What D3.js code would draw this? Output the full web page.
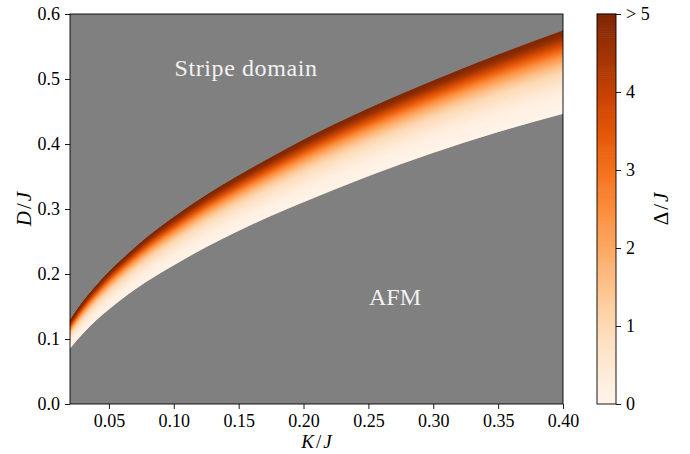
<!DOCTYPE html>
<html>
<head>
<meta charset="utf-8">
<script src="https://cdn.jsdelivr.net/npm/d3@7"></script>
<style>
  body { margin: 0; background: #fff; }
  text { font-family: "Liberation Serif", "DejaVu Serif", serif; fill: #000; }
</style>
</head>
<body>
<svg id="chart" width="690" height="454"></svg>
<script>
// phase boundaries
const kValues = [0.02, 0.025, 0.03, 0.04, 0.05, 0.06, 0.08, 0.10, 0.125, 0.15, 0.175, 0.20, 0.25, 0.30, 0.35, 0.40];
const lowerD  = [0.086, 0.098, 0.109, 0.129, 0.146, 0.162, 0.190, 0.214, 0.242, 0.267, 0.290, 0.311, 0.351, 0.387, 0.419, 0.447];
const upperD  = [0.128, 0.143, 0.157, 0.181, 0.203, 0.222, 0.257, 0.287, 0.321, 0.351, 0.379, 0.406, 0.454, 0.497, 0.537, 0.574];

// gap profile across the band: fraction from lower edge -> Delta/J
const gapFraction = [0, 0.2, 0.35, 0.5, 0.6, 0.7, 0.8, 0.9, 0.95, 1];
const gapValues   = [0, 0.15, 0.5, 1.0, 1.6, 2.4, 3.4, 4.4, 4.8, 5.0];

const xTicks = [0.05, 0.10, 0.15, 0.20, 0.25, 0.30, 0.35, 0.40];
const yTicks = [0.0, 0.1, 0.2, 0.3, 0.4, 0.5, 0.6];
const cbarTicks = [0, 1, 2, 3, 4, 5];
const cbarLabels = ['0', '1', '2', '3', '4', '> 5'];

const serif = '"Liberation Serif", "DejaVu Serif", serif';
const svg = d3.select('#chart');
const plot = {left: 70, right: 563, top: 14, bottom: 404};
const cbar = {left: 597, right: 616};

const x = d3.scaleLinear().domain([0.02, 0.40]).range([plot.left, plot.right]);
const y = d3.scaleLinear().domain([0, 0.6]).range([plot.bottom, plot.top]);
const color = d3.scaleSequential(d3.interpolateOranges).domain([0, 5]);

// gray background
svg.append('rect')
    .attr('x', plot.left).attr('y', plot.top)
    .attr('width', plot.right - plot.left).attr('height', plot.bottom - plot.top)
    .attr('fill', '#808080');

svg.append('clipPath').attr('id', 'plot-clip')
    .append('rect')
    .attr('x', plot.left).attr('y', plot.top)
    .attr('width', plot.right - plot.left).attr('height', plot.bottom - plot.top);

// band, drawn as thin stacked strips of constant colour
const rows = kValues.map((k, i) => ({k, lo: lowerD[i], hi: upperD[i]}));
const strips = [];
const sub = 6;
for (let j = 0; j < gapFraction.length - 1; j++) {
    for (let s = 0; s < sub; s++) {
        const f0 = gapFraction[j] + (gapFraction[j + 1] - gapFraction[j]) * s / sub;
        const f1 = gapFraction[j] + (gapFraction[j + 1] - gapFraction[j]) * (s + 1) / sub;
        const g = gapValues[j] + (gapValues[j + 1] - gapValues[j]) * (s + 0.5) / sub;
        strips.push({f0, f1, g});
    }
}

const band = svg.append('g').attr('clip-path', 'url(#plot-clip)');
// full band first so seams between strips don't show gray
band.append('path')
    .datum(rows)
    .attr('d', d3.area().curve(d3.curveMonotoneX).x(d => x(d.k)).y0(d => y(d.lo)).y1(d => y(d.hi)))
    .attr('fill', color(2));
strips.forEach(st => {
    const area = d3.area()
        .curve(d3.curveMonotoneX)
        .x(d => x(d.k))
        .y0(d => y(d.lo + st.f0 * (d.hi - d.lo)))
        .y1(d => y(d.lo + st.f1 * (d.hi - d.lo)));
    band.append('path')
        .datum(rows)
        .attr('d', area)
        .attr('fill', color(st.g))
        .attr('stroke', color(st.g))
        .attr('stroke-width', 0.8);
});

// annotations
svg.append('text')
    .attr('x', x(0.1557)).attr('y', y(0.504))
    .attr('text-anchor', 'middle')
    .style('font-size', '24px')
    .style('letter-spacing', '0.6px')
    .style('fill', '#f2f2f2')
    .text('Stripe domain');

svg.append('text')
    .attr('x', x(0.2705)).attr('y', y(0.152))
    .attr('text-anchor', 'middle')
    .style('font-size', '24px')
    .style('fill', '#f2f2f2')
    .text('AFM');

// axes
const xAxis = d3.axisBottom(x).tickValues(xTicks).tickFormat(d3.format('.2f')).tickSize(5).tickPadding(5);
const yAxis = d3.axisLeft(y).tickValues(yTicks).tickFormat(d3.format('.1f')).tickSize(5).tickPadding(5);

const gx = svg.append('g').attr('transform', `translate(0,${plot.bottom})`).call(xAxis);
const gy = svg.append('g').attr('transform', `translate(${plot.left},0)`).call(yAxis);
[gx, gy].forEach(g => {
    g.attr('font-family', serif).attr('font-size', 18);
    g.select('.domain').remove();
    g.selectAll('line').attr('stroke', '#000').attr('stroke-width', 0.9);
    g.selectAll('text').style('font-family', serif).style('font-size', '18px');
});

svg.append('rect')
    .attr('x', plot.left).attr('y', plot.top)
    .attr('width', plot.right - plot.left).attr('height', plot.bottom - plot.top)
    .attr('fill', 'none').attr('stroke', '#000').attr('stroke-width', 0.9);

// axis labels
const xLabel = svg.append('text')
    .attr('x', (plot.left + plot.right) / 2).attr('y', 448)
    .attr('text-anchor', 'middle')
    .style('font-size', '19px');
xLabel.append('tspan').style('font-style', 'italic').text('K');
xLabel.append('tspan').attr('dx', 2).text('/');
xLabel.append('tspan').style('font-style', 'italic').attr('dx', 2).text('J');

const yLabel = svg.append('text')
    .attr('transform', `translate(31,${(plot.top + plot.bottom) / 2}) rotate(-90)`)
    .attr('text-anchor', 'middle')
    .style('font-size', '21px');
yLabel.append('tspan').style('font-style', 'italic').text('D');
yLabel.append('tspan').attr('dx', 2).text('/');
yLabel.append('tspan').style('font-style', 'italic').attr('dx', 2).text('J');

// colorbar
const cy = d3.scaleLinear().domain([0, 5]).range([plot.bottom, plot.top]);
const cbarSteps = d3.range(0, 5, 5 / 200);
svg.append('g').selectAll('rect')
    .data(cbarSteps)
    .enter().append('rect')
    .attr('x', cbar.left)
    .attr('y', d => cy(d + 5 / 200) - 0.3)
    .attr('width', cbar.right - cbar.left)
    .attr('height', d => cy(d) - cy(d + 5 / 200) + 0.6)
    .attr('fill', d => color(d + 2.5 / 200));

svg.append('rect')
    .attr('x', cbar.left).attr('y', plot.top)
    .attr('width', cbar.right - cbar.left).attr('height', plot.bottom - plot.top)
    .attr('fill', 'none').attr('stroke', '#000').attr('stroke-width', 0.9);

const gc = svg.append('g').attr('transform', `translate(${cbar.right},0)`)
    .call(d3.axisRight(cy).tickValues(cbarTicks).tickFormat((d, i) => cbarLabels[i]).tickSize(5).tickPadding(5));
gc.attr('font-family', serif).attr('font-size', 18);
gc.select('.domain').remove();
gc.selectAll('line').attr('stroke', '#000').attr('stroke-width', 0.9);
gc.selectAll('text').style('font-family', serif).style('font-size', '18px');

const cLabel = svg.append('text')
    .attr('transform', `translate(668,${(plot.top + plot.bottom) / 2}) rotate(-90)`)
    .attr('text-anchor', 'middle')
    .style('font-size', '21px');
cLabel.append('tspan').text('Δ');
cLabel.append('tspan').attr('dx', 2).text('/');
cLabel.append('tspan').style('font-style', 'italic').attr('dx', 2).text('J');
</script>
</body>
</html>
